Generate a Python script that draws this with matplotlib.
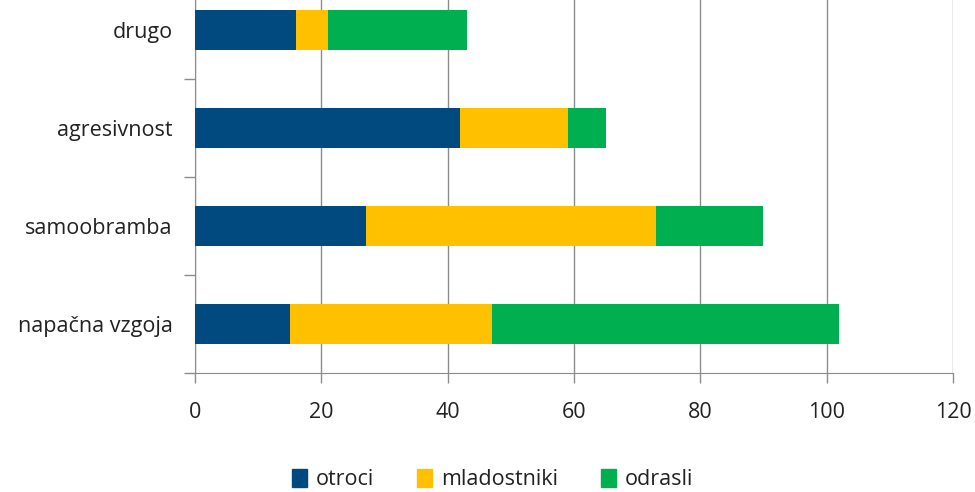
import numpy as np
import matplotlib.pyplot as plt
from matplotlib.patches import Patch

categories = ["napačna vzgoja", "samoobramba", "agresivnost", "drugo"]
otroci = [15, 27, 42, 16]
mladostniki = [32, 46, 17, 5]
odrasli = [55, 17, 6, 22]

plt.rcParams['font.family'] = ['Open Sans', 'DejaVu Sans']

fig = plt.figure(figsize=(9.75, 4.92), dpi=100)
ax = fig.add_axes([0.2, 0.2419, 0.7774, 0.7967])

y = np.arange(len(categories))
h = 0.41
left2 = np.array(otroci)
left3 = left2 + np.array(mladostniki)
ax.barh(y, otroci, height=h, color="#004A80", label="otroci", zorder=3)
ax.barh(y, mladostniki, height=h, left=left2, color="#FFC000", label="mladostniki", zorder=3)
ax.barh(y, odrasli, height=h, left=left3, color="#00B050", label="odrasli", zorder=3)

ax.set_xlim(0, 120)
ax.set_ylim(-0.5, 3.5)
ax.set_xticks(range(0, 121, 20))
ax.grid(axis="x", color="#8c8c8c", linewidth=1, zorder=0)

ax.set_yticks(y)
ax.set_yticklabels(categories)
ax.set_yticks(np.arange(-0.5, 3.6, 1), minor=True)
ax.tick_params(axis="y", which="major", length=0, pad=16, labelsize=15.5, labelcolor="#222222")
ax.tick_params(axis="y", which="minor", length=8, color="#8c8c8c", width=1)
ax.tick_params(axis="x", length=7, color="#8c8c8c", width=1, pad=14, labelsize=15.5, labelcolor="#222222")

for s in ["top", "right"]:
    ax.spines[s].set_visible(False)
for s in ["left", "bottom"]:
    ax.spines[s].set_color("#8c8c8c")

handles = [Patch(color="#004A80", label="otroci"),
           Patch(color="#FFC000", label="mladostniki"),
           Patch(color="#00B050", label="odrasli")]
fig.legend(handles=handles, loc="center", bbox_to_anchor=(0.505, 0.025), ncol=3,
           frameon=False, fontsize=15.5, handlelength=0.7, handleheight=0.9,
           handletextpad=0.4, columnspacing=2.0, labelcolor="#222222")

fig.savefig("out.png", dpi=100)
